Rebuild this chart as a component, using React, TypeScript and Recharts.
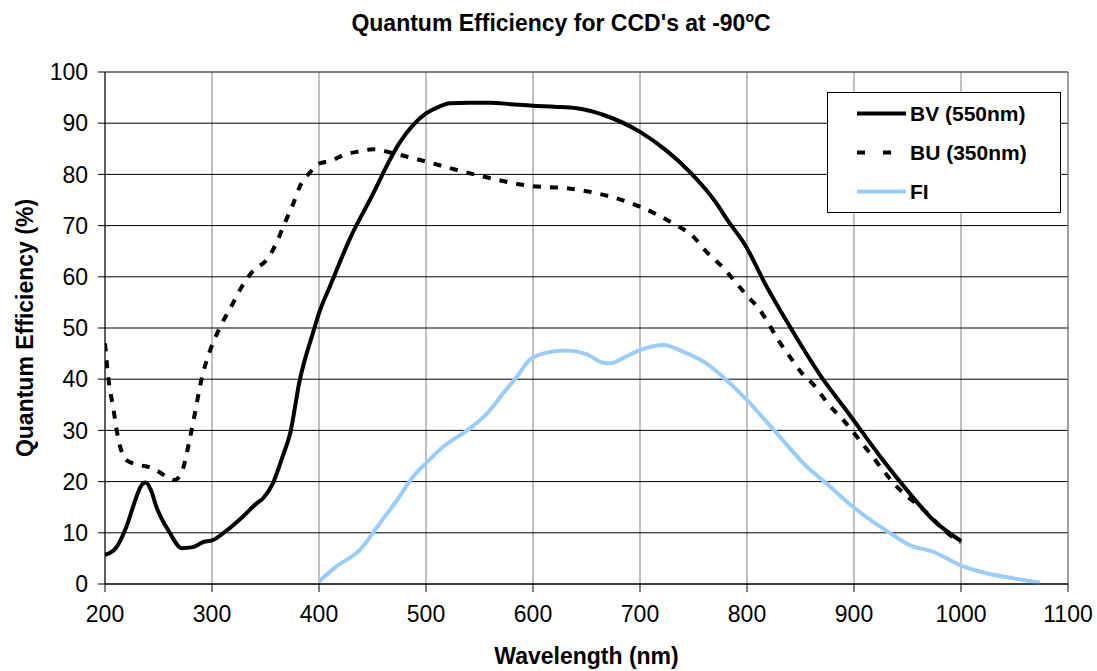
import {
  LineChart,
  Line,
  XAxis,
  YAxis,
  CartesianGrid,
  ReferenceLine,
  Legend,
  Label,
} from "recharts";

const FONT = '"Liberation Sans", Arial, sans-serif';

// axis ticks
const wavelengthTicks = [200, 300, 400, 500, 600, 700, 800, 900, 1000, 1100];
const efficiencyTicks = [0, 10, 20, 30, 40, 50, 60, 70, 80, 90, 100];

// BV (550nm) - solid black
const bvNm = [200, 210, 220, 229, 233, 238, 243, 248, 260, 272, 282, 292, 300, 314, 329, 342, 348, 357, 366, 373, 382, 395, 400, 410, 429, 448, 476, 500, 512, 522, 540, 560, 580, 600, 620, 641, 666, 700, 725, 747, 772, 781, 800, 815, 840, 871, 895, 927, 952, 974, 1000];
const bvQe = [5.7, 7.0, 11.2, 16.8, 18.9, 19.8, 18.3, 15.1, 10.2, 7.0, 7.2, 8.2, 8.5, 10.5, 13.2, 15.8, 16.8, 19.7, 24.9, 29.4, 39.8, 49.5, 52.9, 58.0, 67.5, 75.2, 86.4, 91.9, 93.2, 93.9, 94.0, 94.0, 93.7, 93.4, 93.2, 92.9, 91.6, 88.3, 84.6, 80.4, 74.2, 71.3, 65.6, 59.4, 50.3, 40.0, 33.3, 24.2, 17.7, 12.5, 8.4];

// BU (350nm) - dashed black
const buNm = [200, 203, 208, 212, 220, 233, 245, 255, 265, 273, 279, 284, 290, 298, 306, 318, 328, 339, 351, 360, 368, 376, 382, 392, 399, 413, 423, 435, 451, 470, 500, 547, 600, 631, 666, 700, 731, 750, 762, 778, 789, 801, 811, 820, 829, 840, 850, 864, 875, 890, 915, 940, 965, 994, 1000];
const buQe = [47, 40.5, 34, 28.8, 24.2, 23.2, 22.6, 21.3, 20.3, 22.6, 28.1, 33.3, 39.8, 45.5, 49.5, 54.2, 58.1, 61.3, 63.3, 66.5, 70.5, 74.3, 77.6, 80.5, 82, 82.8, 83.8, 84.4, 84.9, 84.1, 82.5, 79.9, 77.7, 77.3, 76, 73.7, 70.4, 67.8, 64.9, 61.7, 59, 56.1, 53.8, 50.9, 47.7, 44.4, 41.5, 38.5, 35.4, 32, 25.5, 19, 14.5, 8.9, 8.2];

// FI - light blue
const fiNm = [400, 416, 438, 457, 473, 488, 500, 516, 541, 557, 572, 585, 597, 613, 631, 650, 663, 672, 684, 700, 722, 740, 762, 781, 800, 825, 856, 874, 899, 934, 952, 974, 999, 1024, 1049, 1074];
const fiQe = [0.5, 3.4, 6.6, 11.9, 16.4, 21, 23.6, 26.8, 30.4, 33.3, 37.2, 40.5, 43.8, 45.2, 45.6, 44.9, 43.4, 43.1, 44.1, 45.7, 46.7, 45.4, 43.1, 39.8, 35.9, 30.1, 22.9, 19.7, 15.1, 9.9, 7.6, 6.3, 3.7, 2.1, 1.1, 0.25];

const zip = (xs: number[], ys: number[]) => xs.map((nm, i) => ({ nm, qe: ys[i] }));

const series = [
  { name: "BV (550nm)", data: zip(bvNm, bvQe), color: "#000000", dash: undefined, legendDash: undefined },
  { name: "BU (350nm)", data: zip(buNm, buQe), color: "#000000", dash: "8 9", legendDash: "8 18" },
  { name: "FI", data: zip(fiNm, fiQe), color: "#99CCFF", dash: undefined, legendDash: undefined },
];

const LegendBox = () => (
  <svg width={234} height={121} style={{ display: "block" }}>
    <rect x={0.5} y={0.5} width={233} height={120} fill="#fff" stroke="#000" />
    {series.map((s, i) => {
      const cy = 21.5 + i * 39;
      return (
        <g key={s.name}>
          <line x1={30} x2={79} y1={cy} y2={cy} stroke={s.color} strokeWidth={4} strokeDasharray={s.legendDash} />
          <text x={83} y={cy + 7.5} fontSize={21} fontWeight="bold" fontFamily={FONT} fill="#000">
            {s.name}
          </text>
        </g>
      );
    })}
  </svg>
);

const YTitle = () => {
  const cx = 25;
  const cy = 328;
  return (
    <text
      x={cx}
      y={cy}
      transform={`rotate(-90 ${cx} ${cy})`}
      textAnchor="middle"
      dominantBaseline="central"
      fontSize={23}
      fontWeight="bold"
      fill="#000"
    >
      Quantum Efficiency (%)
    </text>
  );
};

export default function App() {
  return (
    <div style={{ position: "relative", width: 1097, height: 671, background: "#fff", fontFamily: FONT }}>
      <style>{`body{margin:0;}`}</style>
      <LineChart
        width={1097}
        height={671}
        margin={{ top: 72, right: 29, bottom: 0, left: 0 }}
        style={{ fontFamily: FONT }}
      >
        <CartesianGrid horizontal={false} vertical={true} stroke="#808080" />
        <CartesianGrid horizontal={true} vertical={false} stroke="#000" />
        <XAxis
          type="number"
          dataKey="nm"
          domain={[200, 1100]}
          ticks={wavelengthTicks}
          allowDataOverflow
          height={87}
          stroke="#000"
          tickSize={8}
          tickMargin={14}
          tick={{ fontSize: 23, fill: "#000" }}
        >
          <Label
            value="Wavelength (nm)"
            position="insideBottom"
            offset={7}
            fontSize={23}
            fontWeight="bold"
            fill="#000"
          />
        </XAxis>
        <YAxis
          type="number"
          domain={[0, 100]}
          ticks={efficiencyTicks}
          width={105}
          stroke="#000"
          tickSize={7}
          tickMargin={10}
          tick={{ fontSize: 23, fill: "#000" }}
        >
          <Label content={YTitle} />
        </YAxis>
        <ReferenceLine y={100} stroke="#808080" />
        <ReferenceLine x={1100} stroke="#808080" />
        <Legend
          layout="horizontal"
          verticalAlign="middle"
          align="center"
          wrapperStyle={{ left: 827, top: 92, width: 234, height: 121 }}
          content={() => <LegendBox />}
        />
        {series
          .slice()
          .reverse()
          .map((s) => (
            <Line
              key={s.name}
              data={s.data}
              dataKey="qe"
              name={s.name}
              type="monotone"
              stroke={s.color}
              strokeWidth={4}
              strokeDasharray={s.dash}
              dot={false}
              activeDot={false}
              isAnimationActive={false}
            />
          ))}
      </LineChart>
      <svg
        width={1097}
        height={60}
        style={{ position: "absolute", left: 0, top: 0, pointerEvents: "none" }}
      >
        <text x={561} y={31} textAnchor="middle" fontSize={23} fontWeight="bold" fontFamily={FONT} fill="#000">
          Quantum Efficiency for CCD's at -90
          <tspan fontSize={14} dy={-9}>o</tspan>
          <tspan dy={9}>C</tspan>
        </text>
      </svg>
    </div>
  );
}
